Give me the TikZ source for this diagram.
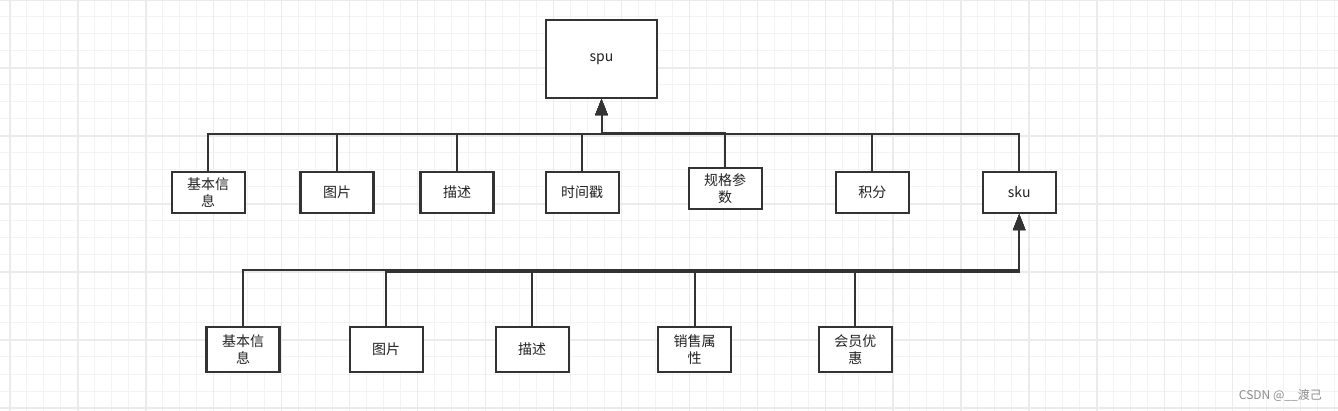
\documentclass[tikz,border=0pt]{standalone}
\usepackage{fontspec}
\newfontfamily\cjk{Noto Sans CJK SC}
\usetikzlibrary{arrows.meta}
\definecolor{linec}{HTML}{333333}
\definecolor{textc}{HTML}{222222}
\definecolor{gridminor}{HTML}{F3F3F3}
\definecolor{gridmajor}{HTML}{EBEBEB}
\tikzset{
  minorgrid/.style={draw=gridminor, line width=1pt},
  majorgrid/.style={draw=gridmajor, line width=1.3pt},
  box/.style={draw=linec, line width=2.1pt, fill=white, align=center, inner sep=0pt,
    font=\cjk\fontsize{14}{17.6}\selectfont, text=textc,
    minimum width=73pt, minimum height=41pt},
  tallbox/.style={box, minimum height=44.5pt},
  bigbox/.style={box, minimum width=111pt, minimum height=78pt},
  edge/.style={draw=linec, line width=2pt},
  arrowedge/.style={edge, -{Triangle[length=16pt,width=12pt]}},
}
\begin{document}
\begin{tikzpicture}[x=1pt,y=-1pt]
\useasboundingbox (0,0) rectangle (1338,411);
\fill[white] (0,0) rectangle (1338,411);
% grid
\foreach \i in {0,...,79} {
  \draw[minorgrid] ({-7+16.98*\i},0) -- ({-7+16.98*\i},411);
}
\foreach \i in {0,...,24} {
  \draw[minorgrid] (0,{17*\i}) -- (1338,{17*\i});
}
\foreach \i in {0,...,19} {
  \draw[majorgrid] ({10+67.93*\i},0) -- ({10+67.93*\i},411);
}
\foreach \i in {0,...,6} {
  \draw[majorgrid] (0,{68*\i}) -- (1338,{68*\i});
}
% top
\node[bigbox] (spu) at (601.5,59) {spu};
% row 1
\node[box] (a1) at (208.2,192.5) {基本信\\息};
\node[box] (a2) at (337,192.5) {图片};
\node[box] (a3) at (457,192.5) {描述};
\node[box] (a4) at (582.2,192.5) {时间戳};
\node[box] (a5) at (725.2,188.5) {规格参\\数};
\node[box] (a6) at (872.3,192.5) {积分};
\node[box] (sku) at (1019.2,192.5) {sku};
% row 2
\node[tallbox] (b1) at (243,349.5) {基本信\\息};
\node[tallbox] (b2) at (386.2,349.5) {图片};
\node[tallbox] (b3) at (532.2,349.5) {描述};
\node[tallbox] (b4) at (694.5,349.5) {销售属\\性};
\node[tallbox] (b5) at (855.4,349.5) {会员优\\惠};
% bus coordinates
\coordinate (busA) at (0,134);
\coordinate (busAb) at (0,132.6);
\coordinate (busB) at (0,270.2);
\coordinate (busBb) at (0,271.6);
% edges to spu
\foreach \n in {a1,a2,a3,a4,a6,sku} {
  \draw[arrowedge] (\n.north) -- (\n.north |- busA) -| (spu.south);
}
\draw[arrowedge] (a5.north) -- (a5.north |- busAb) -| (spu.south);
% edges to sku
\foreach \n in {b1,b3,b4,b5} {
  \draw[arrowedge] (\n.north) -- (\n.north |- busB) -| (sku.south);
}
\draw[arrowedge] (b2.north) -- (b2.north |- busBb) -| (sku.south);
% watermark
\node[font=\cjk\fontsize{12}{14}\selectfont, text=black!45, anchor=east, inner sep=0pt] (wm) at (1322,395.5) {CSDN @\_\_渡己};
\end{tikzpicture}
\end{document}
